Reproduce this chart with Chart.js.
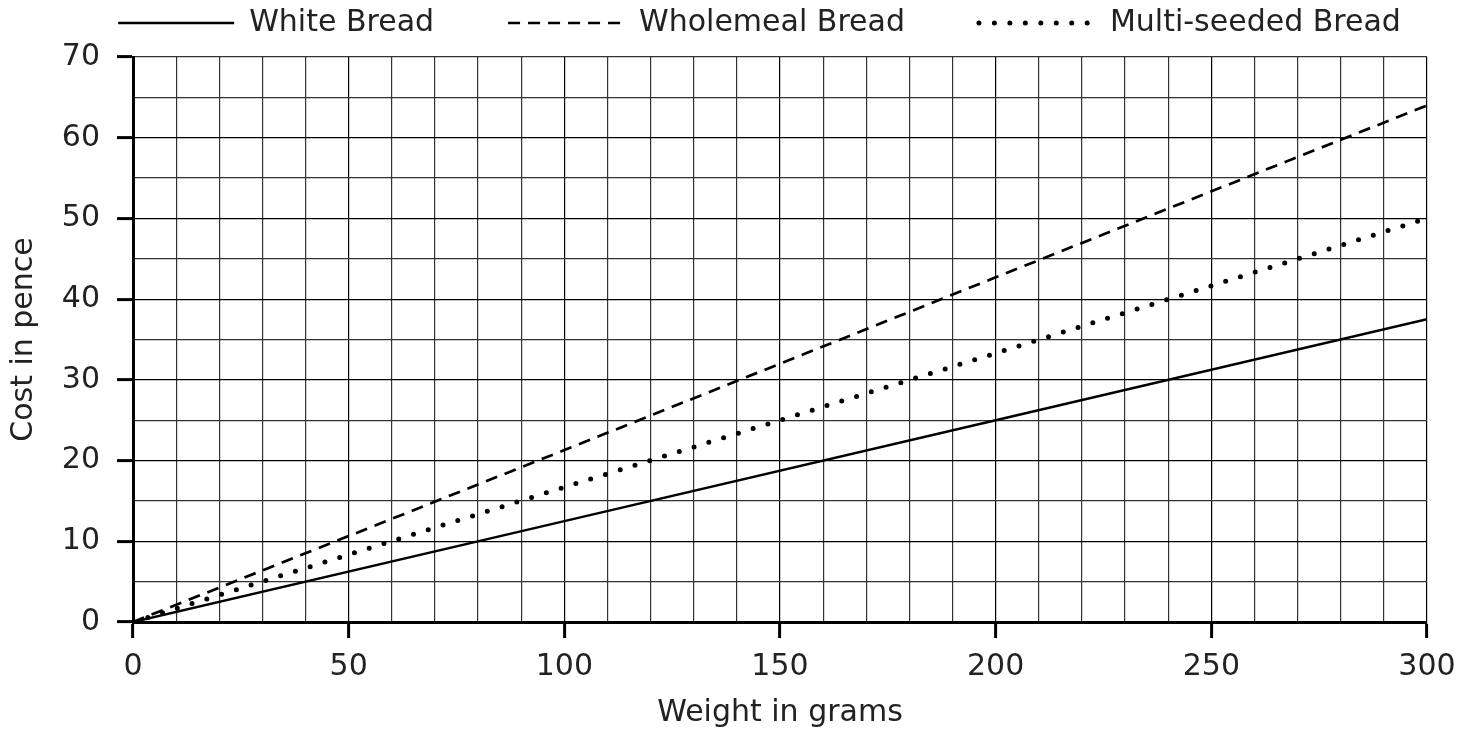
<!DOCTYPE html>
<html><head><meta charset="utf-8">
<script src="https://cdn.jsdelivr.net/npm/chart.js@4/dist/chart.umd.min.js"></script>
<style>html,body{margin:0;padding:0;background:#fff}#wrap{width:1476px;height:731px}</style>
</head><body><div id="wrap"><canvas id="c" width="1476" height="731"></canvas></div>
<script>
const weights = [0, 100, 200, 300];
const whiteBread = [0, 12.5, 25, 37.5];
const wholemealBread = [0, 21.3, 42.7, 64];
const multiSeededBread = [0, 16.7, 33.3, 50];
const seriesNames = ['White Bread', 'Wholemeal Bread', 'Multi-seeded Bread'];
const xTickLabels = [0, 50, 100, 150, 200, 250, 300];
const yTickLabels = [0, 10, 20, 30, 40, 50, 60, 70];
const xTitle = 'Weight in grams';
const yTitle = 'Cost in pence';

const FONT = '"DejaVu Sans", sans-serif';
const FS = 30;
const toPts = (arr) => weights.map((w, i) => ({x: w, y: arr[i]}));

const legendGap = {
  id: 'legendGap',
  beforeInit(chart) {
    const lg = chart.legend;
    const f = lg.fit;
    lg.fit = function () { f.call(this); this.height = 57; };
  },
  afterLayout(chart) {
    chart.legend.left += 92;
  }
};

new Chart(document.getElementById('c'), {
  type: 'line',
  data: {
    datasets: [
      {label: seriesNames[0], data: toPts(whiteBread), borderColor: '#000', borderWidth: 2.5, pointRadius: 0, borderCapStyle: 'butt'},
      {label: seriesNames[1], data: toPts(wholemealBread), borderColor: '#000', borderWidth: 2.7, borderDash: [12, 8], pointRadius: 0, borderCapStyle: 'butt'},
      {label: seriesNames[2], data: toPts(multiSeededBread), borderColor: '#000', borderWidth: 5, borderDash: [0, 15.4667], pointRadius: 0, borderCapStyle: 'round'}
    ]
  },
  options: {
    responsive: false,
    animation: false,
    layout: {padding: {top: 0, right: 49, left: 0, bottom: 0}},
    plugins: {
      tooltip: {enabled: false},
      legend: {
        position: 'top',
        labels: {
          usePointStyle: false,
          boxWidth: 116,
          boxHeight: 0,
          padding: 8,
          color: '#222',
          font: {family: FONT, size: FS},
          generateLabels(chart) {
            const items = Chart.defaults.plugins.legend.labels.generateLabels(chart);
            items.forEach((it, i) => {
              it.fillStyle = 'rgba(0,0,0,0)';
              if (i < items.length - 1) it.text = it.text + '\u2003\u2003\u2009';
            });
            return items;
          }
        }
      }
    },
    scales: {
      x: {
        type: 'linear', min: 0, max: 300,
        afterFit(s) { s.height = 109; },
        afterBuildTicks(s) { const t = []; for (let v = 0; v <= 300; v += 10) t.push({value: v}); s.ticks = t; },
        ticks: {
          autoSkip: false, maxRotation: 0, padding: 11, color: '#222',
          font: {family: FONT, size: FS},
          callback: (v) => xTickLabels.includes(v) ? String(v) : ''
        },
        grid: {
          color: (c) => (c.tick && c.tick.value % 50 === 0) ? '#000' : '#333',
          lineWidth: 1.2,
          tickLength: 16,
          tickColor: (c) => (c.tick && xTickLabels.includes(c.tick.value)) ? '#000' : 'rgba(0,0,0,0)',
          tickWidth: 3
        },
        border: {color: '#000', width: 3},
        title: {display: true, text: xTitle, color: '#222', font: {family: FONT, size: FS}, padding: {top: 4, bottom: 0}}
      },
      y: {
        min: 0, max: 70,
        afterFit(s) { s.width = 133; },
        afterBuildTicks(s) { const t = []; for (let v = 0; v <= 70; v += 5) t.push({value: v}); s.ticks = t; },
        ticks: {
          autoSkip: false, padding: 17, color: '#222',
          font: {family: FONT, size: FS},
          callback: (v) => yTickLabels.includes(v) ? String(v) : ''
        },
        grid: {
          color: (c) => (c.tick && c.tick.value % 10 === 0 && c.tick.value !== 70) ? '#000' : '#333',
          lineWidth: 1.2,
          tickLength: 16,
          tickColor: (c) => (c.tick && yTickLabels.includes(c.tick.value)) ? '#000' : 'rgba(0,0,0,0)',
          tickWidth: 3
        },
        border: {color: '#000', width: 3},
        title: {display: true, text: yTitle, color: '#222', font: {family: FONT, size: FS}, padding: {top: 6, bottom: 4}}
      }
    }
  },
  plugins: [legendGap]
});
</script></body></html>
